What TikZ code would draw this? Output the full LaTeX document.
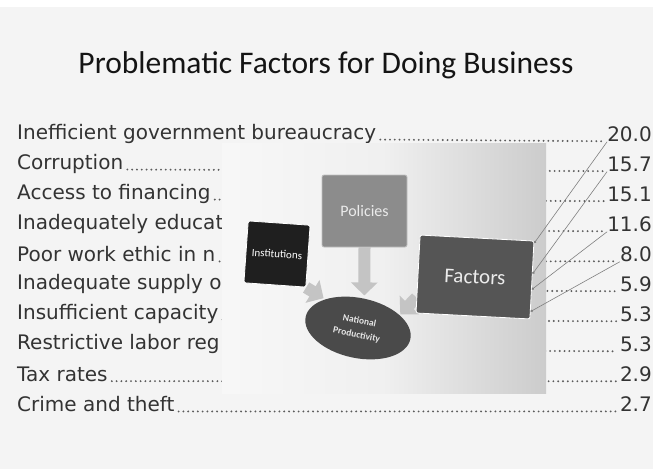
\documentclass[tikz,border=0pt]{standalone}
\usepackage{fontspec}
\setmainfont{DejaVu Sans}
\newfontfamily\slidefont{Carlito}
\usetikzlibrary{shapes.geometric,arrows.meta,calc,positioning}

\definecolor{slidebg}{HTML}{F4F4F4}
\definecolor{listtext}{HTML}{333333}
\definecolor{arrowgray}{HTML}{C4C4C4}
\definecolor{polgray}{HTML}{8C8C8C}
\definecolor{facgray}{HTML}{555555}
\definecolor{npgray}{HTML}{4A4A4A}

\pgfdeclarelayer{back}
\pgfsetlayers{back,main}

\tikzset{
  rowlabel/.style={anchor=west,inner sep=0pt,text=listtext,font=\fontsize{20}{22}\selectfont},
  rowvalue/.style={anchor=east,inner sep=0pt,text=listtext,font=\fontsize{20}{22}\selectfont},
  leader/.style={listtext!80,line width=2.1pt,dash pattern=on 0pt off 4.8pt,line cap=round,shorten <=4pt,shorten >=3pt},
  box/.style={draw=white,line width=0.8pt,rounded corners=2pt,inner sep=0pt},
  blockarrow/.style={draw=arrowgray,line width=12pt,-{Triangle[width=26pt,length=13pt]}},
  pointer/.style={gray,line width=0.6pt,-{Circle[length=2.5pt]}}
}

\begin{document}
\begin{tikzpicture}[x=1pt,y=-1pt]
\useasboundingbox (0,0) rectangle (653,469);

\begin{pgfonlayer}{back}
\fill[white] (0,0) rectangle (653,469);
\fill[slidebg] (0,7) rectangle (653,469);

\node[font=\slidefont\fontsize{31.5}{36}\selectfont,text=black!92] (title) at (326,65) {Problematic Factors for Doing Business};

% survey rows, cut off by the photo
\foreach \lab/\val [count=\i] in {Inefficient government bureaucracy/20.0, Corruption/15.7, Access to financing/15.1, Inadequately educat/11.6, Poor work ethic in n/8.0, Inadequate supply o/5.9, Insufficient capacity/5.3, Restrictive labor reg/5.3, Tax rates/2.9, Crime and theft/2.7}{
  \node[rowlabel] (l\i) at (17,{104+30*\i}) {\lab};
  \node[rowvalue] (v\i) at (652,{104+30*\i}) {\val};
  \draw[leader] (l\i.base east) -- (v\i.base west);
}

% photo of the slide
\shade[left color=black!3,right color=black!20,middle color=black!6] (222,143) rectangle (546,393);
\end{pgfonlayer}

\node[box,fill=polgray,draw=black!25,minimum width=85pt,minimum height=72pt,text=black!8,font=\slidefont\fontsize{16}{18}\selectfont] (pol) at (364.5,211) {Policies};
\node[box,fill=black!88,minimum size=62pt,rotate=-4,text=white,font=\slidefont\fontsize{11}{13}\selectfont] (inst) at (277,254) {Institutions};
\node[box,fill=facgray,minimum width=114pt,minimum height=78pt,rotate=-3,text=black!8,font=\slidefont\fontsize{21}{24}\selectfont] (fac) at (475,277) {Factors};
\node[ellipse,fill=npgray,minimum width=107pt,minimum height=60pt,rotate=-12,inner sep=0pt,align=center,text=black!10,font=\slidefont\bfseries\fontsize{9.5}{14}\selectfont] (np) at (358,328) {National\\Productivity};

\begin{pgfonlayer}{back}
\draw[blockarrow,shorten >=3pt] (pol.south) -- (np.north);
\draw[blockarrow,shorten >=2pt] (inst.south east) -- (np.north west);
\draw[blockarrow,shorten >=1pt] ($(fac.south west)!0.2!(fac.north west)$) -- (np.north east);
\end{pgfonlayer}

% lines from the numbers to the Factors box
\draw[pointer] (v1.south west) -- ($(fac.north east)!0.03!(fac.south east)$);
\draw[pointer] (v2.south west) -- ($(fac.north east)!0.42!(fac.south east)$);
\draw[pointer] (v4.south west) -- ($(fac.north east)!0.62!(fac.south east)$);
\draw[pointer] (v5.south west) -- ($(fac.north east)!0.9!(fac.south east)$);
\end{tikzpicture}
\end{document}
